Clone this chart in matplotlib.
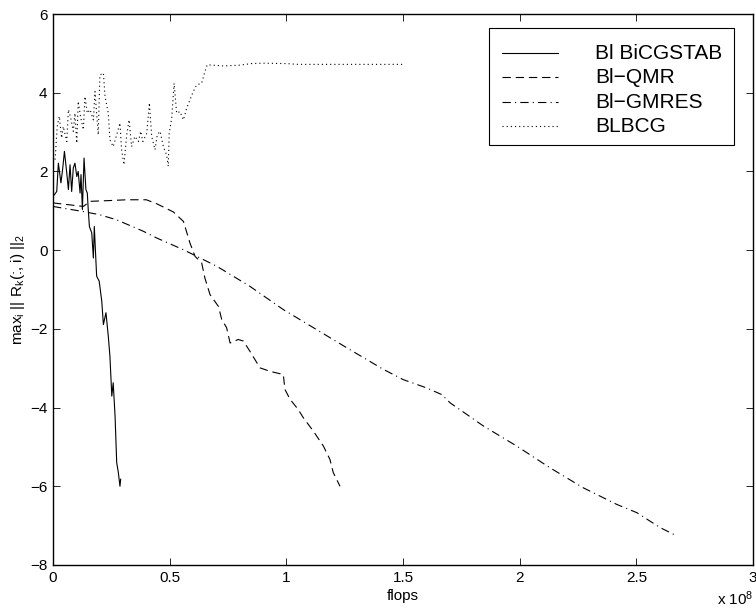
import matplotlib
matplotlib.use("Agg")
import matplotlib.pyplot as plt
from matplotlib.lines import Line2D
from matplotlib.patches import Rectangle

plt.rcParams['font.family'] = ['Liberation Sans', 'DejaVu Sans']
plt.rcParams['mathtext.fontset'] = 'custom'
plt.rcParams['mathtext.rm'] = 'Liberation Sans'
plt.rcParams['mathtext.it'] = 'Liberation Sans'
plt.rcParams['lines.scale_dashes'] = False

# flops in units of 1e8, residual norm (log10)
bicg_x = [0.001, 0.016, 0.023, 0.034, 0.041, 0.049, 0.059, 0.066, 0.073, 0.080,
          0.087, 0.094, 0.102, 0.108, 0.116, 0.120, 0.126, 0.133, 0.141, 0.147,
          0.151, 0.156, 0.166, 0.173, 0.177, 0.187, 0.198, 0.209, 0.216, 0.227,
          0.237, 0.244, 0.252, 0.258, 0.266, 0.273, 0.280, 0.287, 0.290]
bicg_y = [1.37, 1.49, 2.21, 1.71, 2.04, 2.51, 1.96, 1.54, 2.17, 1.49,
          2.09, 2.21, 1.87, 2.00, 1.45, 1.92, 1.03, 2.34, 1.54, 1.45,
          1.03, 0.60, 0.44, -0.20, 0.60, -0.66, -0.79, -1.30, -1.89, -1.59,
          -2.19, -2.70, -3.71, -3.37, -4.22, -5.40, -5.65, -6.00, -5.82]

qmr_x = [0.0, 0.073, 0.13, 0.159, 0.244, 0.316, 0.40, 0.444, 0.516, 0.559,
         0.587, 0.609, 0.637, 0.651, 0.673, 0.709, 0.723, 0.744, 0.759, 0.794,
         0.816, 0.844, 0.887, 0.93, 0.987, 0.994, 1.016, 1.051, 1.073, 1.116,
         1.159, 1.187, 1.201, 1.23]
qmr_y = [1.20, 1.15, 1.11, 1.24, 1.26, 1.28, 1.28, 1.18, 0.97, 0.73,
         0.18, -0.16, -0.32, -0.71, -1.13, -1.43, -1.76, -1.97, -2.36, -2.27,
         -2.31, -2.57, -2.99, -3.08, -3.16, -3.54, -3.79, -4.05, -4.26, -4.60,
         -4.98, -5.32, -5.65, -6.00]

gmres_x = [0.0, 0.13, 0.20, 0.273, 0.387, 0.444, 0.559, 0.702, 0.844, 0.987,
           1.13, 1.273, 1.416, 1.501, 1.601, 1.666, 1.702, 1.845, 1.988, 2.13,
           2.273, 2.416, 2.502, 2.602, 2.673]
gmres_y = [1.11, 0.98, 0.90, 0.77, 0.48, 0.31, 0.01, -0.41, -0.92, -1.51,
           -2.02, -2.53, -3.03, -3.29, -3.50, -3.67, -3.88, -4.47, -4.98, -5.53,
           -6.04, -6.46, -6.67, -7.05, -7.26]

blbcg_x = [0.009, 0.018, 0.027, 0.037, 0.044, 0.059, 0.066, 0.076, 0.087, 0.094,
           0.102, 0.108, 0.119, 0.130, 0.137, 0.147, 0.159, 0.173, 0.180, 0.194,
           0.201, 0.216, 0.223, 0.237, 0.244, 0.258, 0.273, 0.287, 0.294, 0.304,
           0.316, 0.326, 0.337, 0.351, 0.366, 0.376, 0.385, 0.402, 0.413, 0.423,
           0.437, 0.447, 0.459, 0.473, 0.487, 0.494, 0.498, 0.509, 0.519, 0.530,
           0.544, 0.559, 0.573, 0.587, 0.601, 0.616, 0.637, 0.651, 0.661, 0.73,
           0.80, 0.85, 0.90, 1.00, 1.05, 1.20, 1.50]
blbcg_y = [2.30, 3.14, 3.40, 2.85, 3.14, 2.76, 3.57, 3.36, 3.02, 3.48,
           2.72, 3.78, 3.36, 3.06, 3.90, 3.48, 3.57, 3.31, 4.03, 2.93,
           4.45, 4.50, 3.90, 3.48, 2.80, 2.63, 2.93, 3.23, 2.55, 2.17,
           2.93, 3.31, 2.63, 2.89, 2.76, 3.02, 2.76, 2.97, 3.74, 2.89,
           2.55, 2.93, 3.02, 2.63, 2.42, 2.13, 2.97, 3.36, 4.24, 3.48,
           3.52, 3.31, 3.61, 3.82, 4.03, 4.20, 4.24, 4.54, 4.71, 4.68,
           4.70, 4.74, 4.75, 4.74, 4.72, 4.72, 4.72]

labels = ['Bl BiCGSTAB', 'Bl\u2212QMR', 'Bl\u2212GMRES', 'BLBCG']
styles = [dict(linestyle='-'),
          dict(dashes=(6, 3.5)),
          dict(dashes=(6, 3, 0.8, 3)),
          dict(dashes=(0.8, 2.2))]
series = [(bicg_x, bicg_y), (qmr_x, qmr_y), (gmres_x, gmres_y), (blbcg_x, blbcg_y)]

fig = plt.figure(figsize=(7.56, 6.14), dpi=100)
ax = fig.add_axes([53 / 756, 1 - 565 / 614, 700 / 756, 551 / 614])

for (xs, ys), st in zip(series, styles):
    ax.plot(xs, ys, color='black', lw=0.8, **st)

ax.set_xlim(0, 3)
ax.set_ylim(-8, 6)
ax.set_xticks([0, 0.5, 1, 1.5, 2, 2.5, 3])
ax.set_xticklabels(['0', '0.5', '1', '1.5', '2', '2.5', '3'])
ax.set_yticks(range(-8, 7, 2))
ax.tick_params(direction='in', top=True, right=True, length=5, width=0.6,
               labelsize=11, pad=4)
for sp in ax.spines.values():
    sp.set_linewidth(1.0)

ax.set_xlabel('flops', fontsize=11, labelpad=3)
ax.set_ylabel(r'max$_{\mathrm{i}}$ || R$_{\mathrm{k}}$(:, i) ||$_{\mathrm{2}}$',
              fontsize=11, labelpad=2)
fig.text(753 / 756, 6 / 614, r'x 10$^{8}$', ha='right', va='bottom', fontsize=11)

# legend box drawn in axes fraction
tr = ax.transAxes
ax.add_patch(Rectangle((0.623, 0.762), 0.35, 0.213, transform=tr, fill=True,
                       facecolor='white', edgecolor='black', lw=0.8, zorder=5))
row_y = [0.929, 0.885, 0.840, 0.796]
for lab, st, yy in zip(labels, styles, row_y):
    ax.add_line(Line2D([0.641, 0.721], [yy, yy], transform=tr, color='black',
                       lw=0.8, zorder=6, **st))
    ax.text(0.774, yy, lab, transform=tr, ha='left', va='center',
            fontsize=15, zorder=6)

fig.savefig('out.png', dpi=100)
